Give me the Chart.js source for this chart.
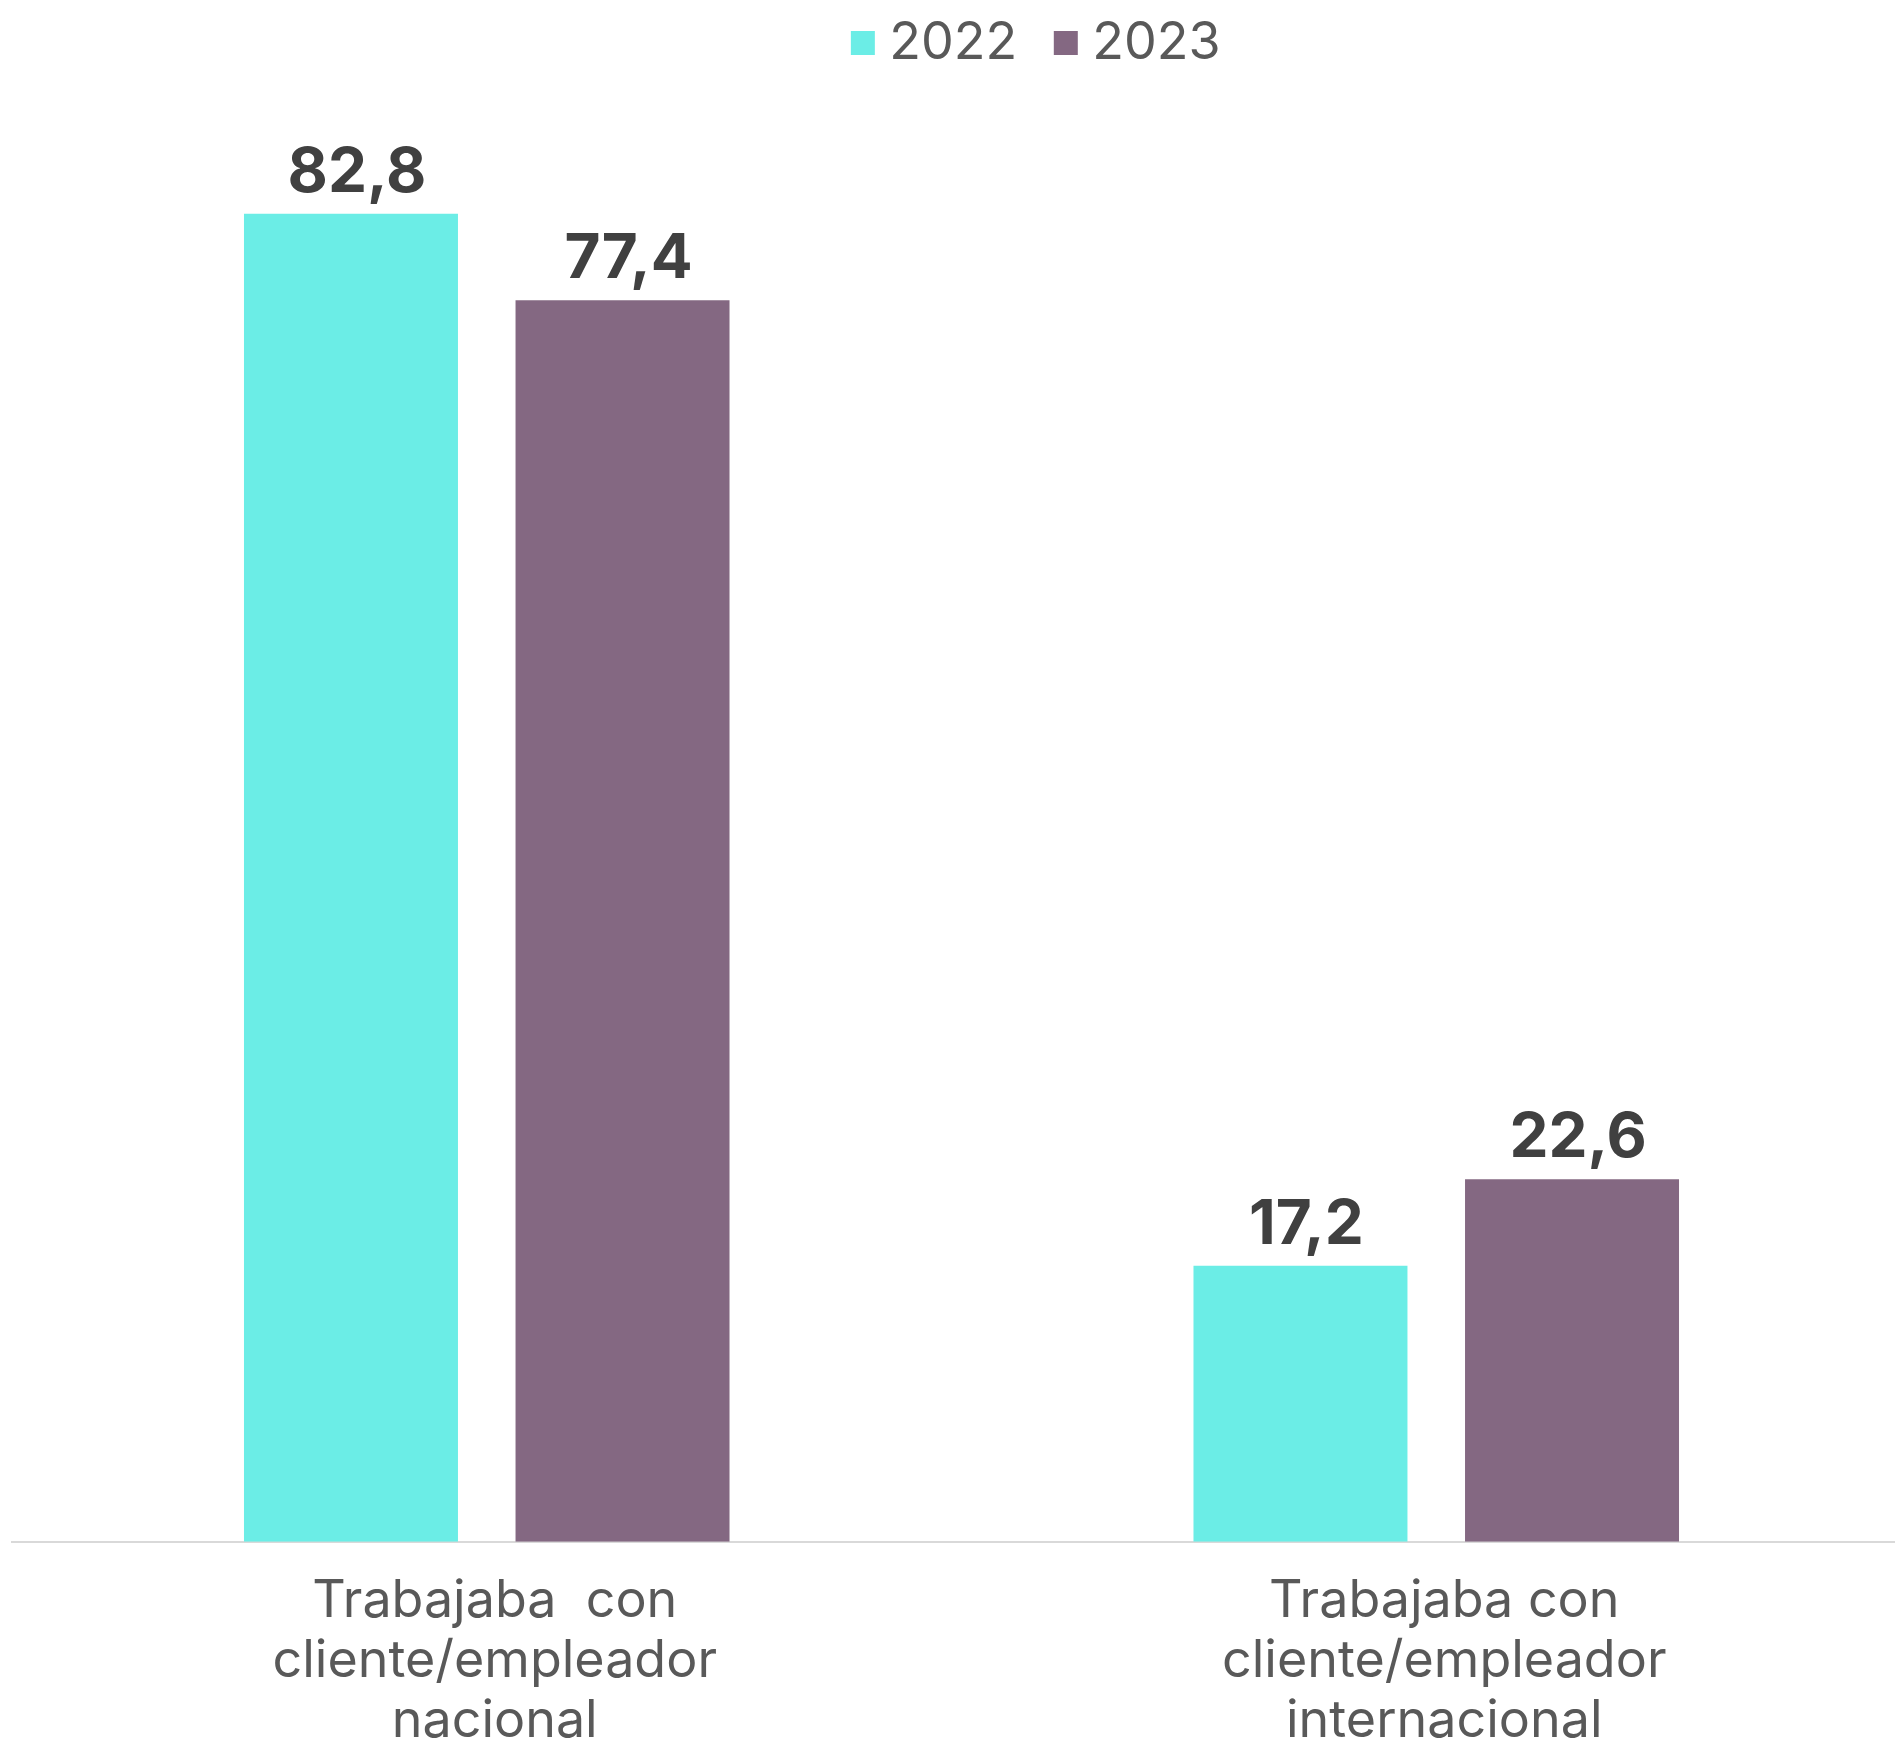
<!DOCTYPE html>
<html>
<head>
<meta charset="utf-8">
<script src="https://cdn.jsdelivr.net/npm/chart.js@4"></script>
<style>
  html, body { margin: 0; padding: 0; background: #fff; overflow: hidden; }
  #wrap { width: 1911px; height: 1742px; position: relative; }
</style>
</head>
<body>
<div id="wrap"><canvas id="myChart"></canvas></div>
<script>
const categories = [
  ['Trabajaba  con', 'cliente/empleador', 'nacional'],
  ['Trabajaba con', 'cliente/empleador', 'internacional'],
];
const years = ['2022', '2023'];
const values2022 = [82.8, 17.2];
const values2023 = [77.4, 22.6];
const colors = ['#6BEDE6', '#846882'];

const fmt = (v) => v.toFixed(1).replace('.', ',');

// value labels above every bar
const barLabels = {
  id: 'barLabels',
  afterDatasetsDraw(chart) {
    const ctx = chart.ctx;
    ctx.save();
    ctx.font = 'bold 62px Inter';
    ctx.fillStyle = '#404040';
    ctx.textAlign = 'center';
    ctx.textBaseline = 'alphabetic';
    chart.data.datasets.forEach((ds, i) => {
      chart.getDatasetMeta(i).data.forEach((bar, j) => {
        ctx.fillText(fmt(ds.data[j]), bar.x + 6, bar.y - 22);
      });
    });
    ctx.restore();
  },
};

// legend sits a bit right of centre in the original
const legendShift = {
  id: 'legendShift',
  afterLayout(chart) {
    chart.legend.left += 80;
    chart.legend.right += 80;
  },
};

new Chart(document.getElementById('myChart'), {
  type: 'bar',
  data: {
    labels: categories,
    datasets: [{
      label: years[0],
      data: values2022,
      backgroundColor: colors[0],
    }, {
      label: years[1],
      data: values2023,
      backgroundColor: colors[1],
    }],
  },
  options: {
    responsive: true,
    maintainAspectRatio: false,
    animation: false,
    devicePixelRatio: 1,
    categoryPercentage: 0.572,
    barPercentage: 0.788,
    layout: { padding: { left: 12, right: 0, top: -31, bottom: -39 } },
    plugins: {
      legend: {
        position: 'top',
        align: 'center',
        labels: {
          usePointStyle: true,
          pointStyle: 'rect',
          boxWidth: 1,
          boxHeight: 24,
          padding: 48,
          color: '#595959',
          font: { family: 'Inter', size: 52 },
        },
      },
      tooltip: { enabled: false },
    },
    scales: {
      x: {
        grid: { display: false, drawTicks: false },
        border: { display: true, color: '#d9d9d9', width: 2 },
        ticks: {
          color: '#595959',
          padding: 29,
          labelOffset: 8,
          maxRotation: 0,
          autoSkip: false,
          font: { family: 'Inter', size: 52, lineHeight: 1.162 },
        },
      },
      y: {
        display: false,
        min: 0,
        max: 91.2,
      },
    },
  },
  plugins: [barLabels, legendShift],
});
</script>
</body>
</html>
